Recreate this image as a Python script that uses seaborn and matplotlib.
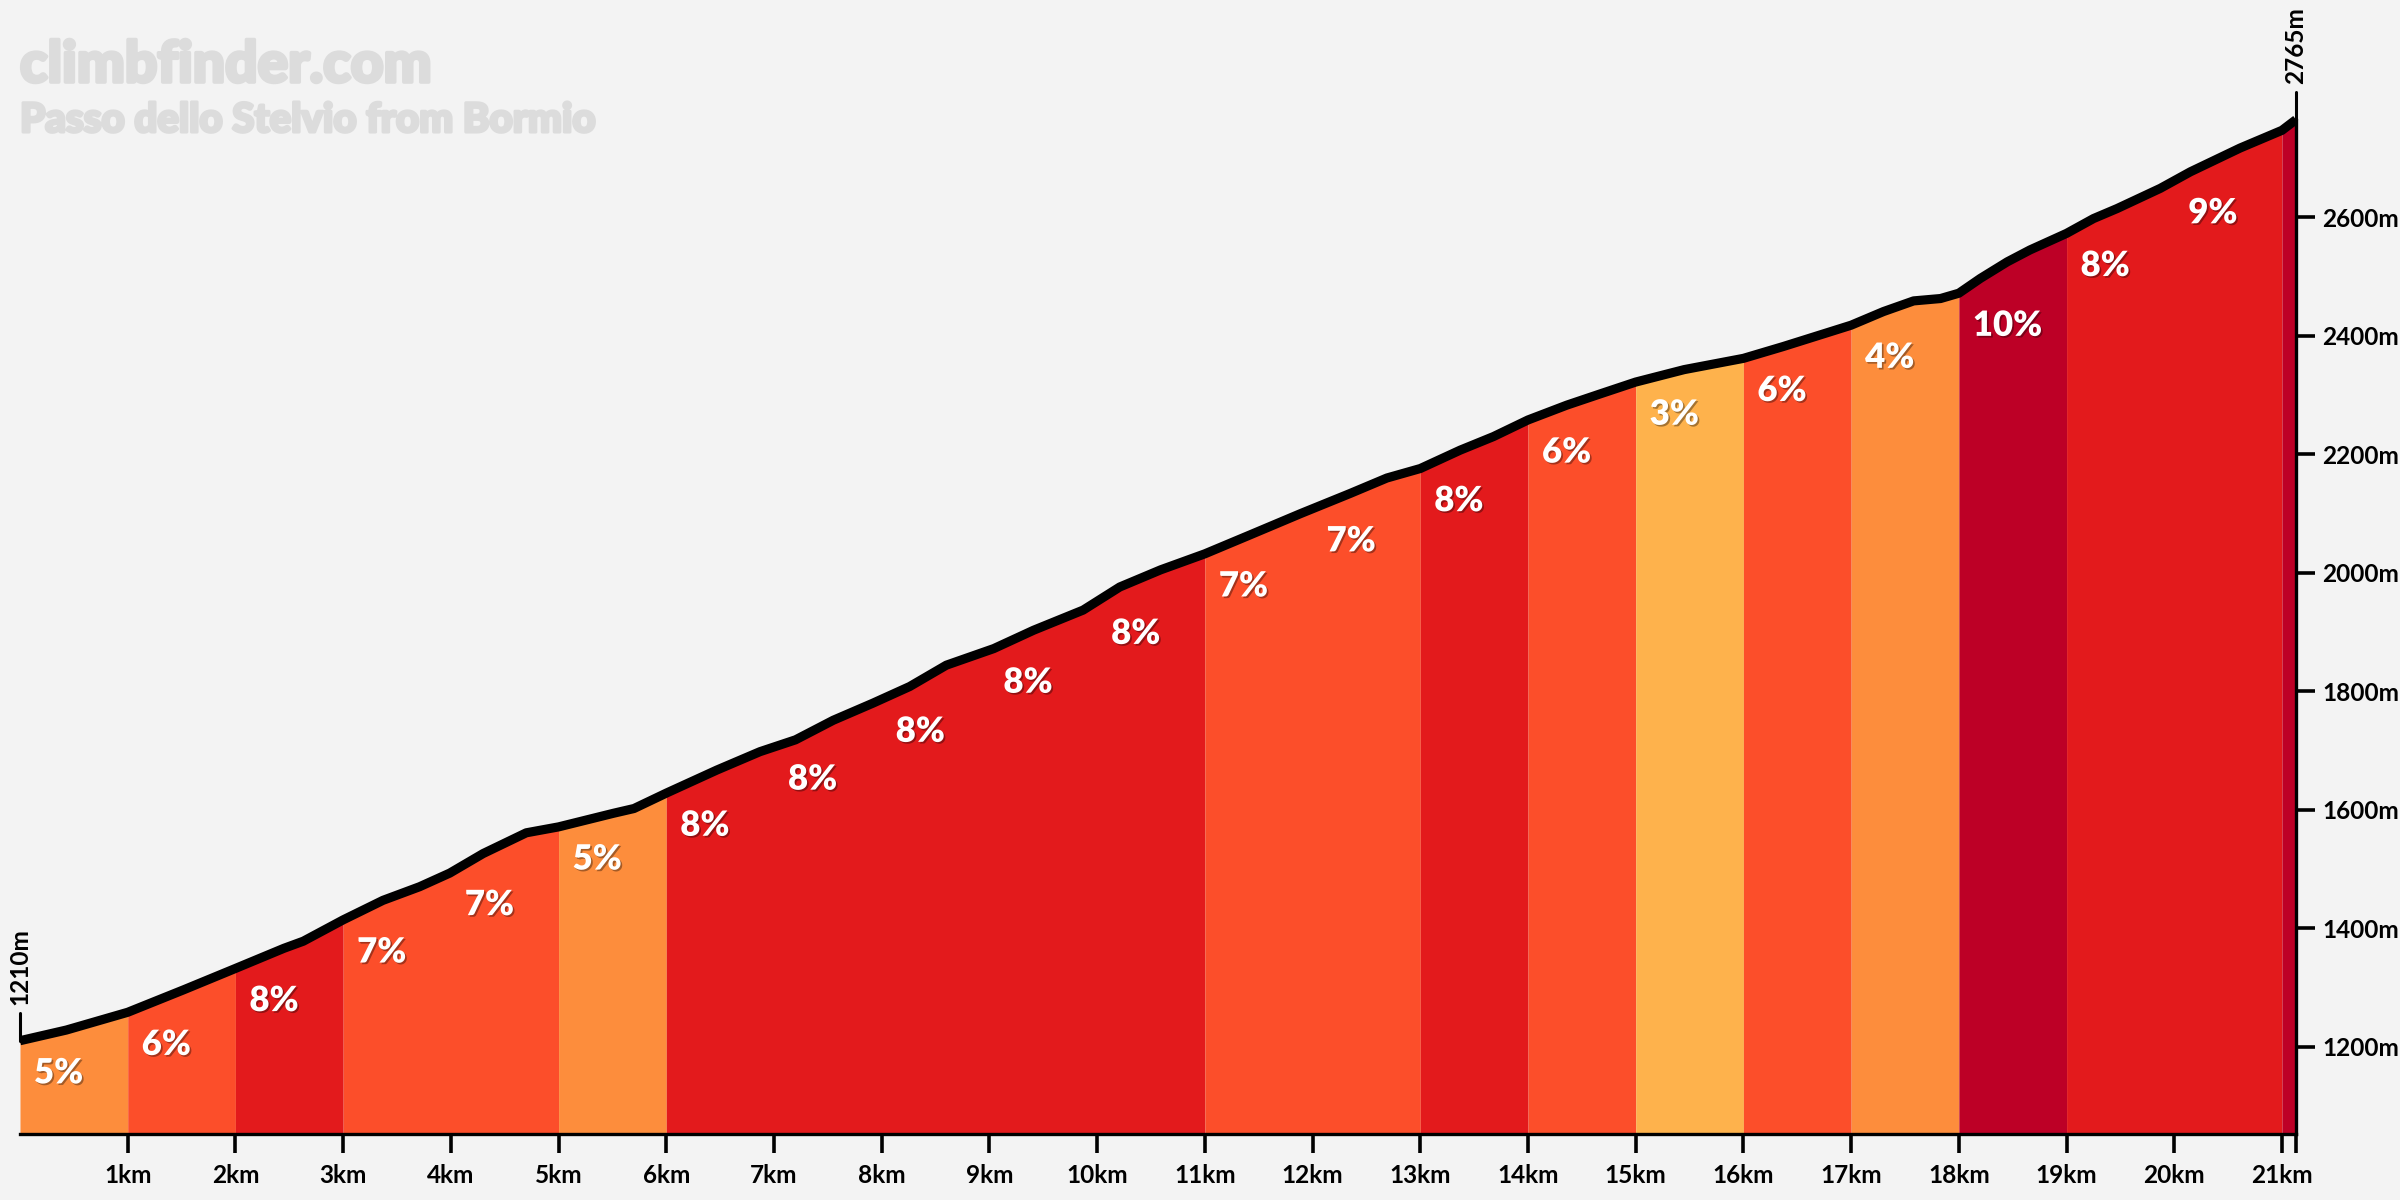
import numpy as np
import pandas as pd
import matplotlib
matplotlib.use("Agg")
import matplotlib.pyplot as plt
import matplotlib.patheffects as pe
import seaborn as sns

# ---------------- data ----------------
title = "climbfinder.com"
subtitle = "Passo dello Stelvio from Bormio"

dist_km = [0.0, 0.43, 1.0, 1.52, 2.0, 2.45, 2.63, 3.0, 3.37, 3.71, 3.99, 4.30, 4.70,
           5.0, 5.51, 5.70, 6.0, 6.47, 6.87, 7.2, 7.55, 7.92, 8.26, 8.60, 9.04, 9.41,
           9.87, 10.21, 10.59, 11.0, 11.42, 11.89, 12.35, 12.69, 13.0, 13.37, 13.68,
           14.0, 14.36, 14.67, 15.0, 15.45, 16.0, 16.37, 17.0, 17.3, 17.58,
           17.83, 18.0, 18.2, 18.45, 18.66, 19.0, 19.25, 19.47, 19.87, 20.15, 20.61,
           21.0, 21.13]
elev_m = [1210, 1228, 1258, 1296, 1332, 1366, 1378, 1414, 1447, 1470, 1493, 1526, 1561,
          1571, 1594, 1602, 1628, 1667, 1698, 1718, 1751, 1780, 1808, 1844, 1872, 1903,
          1937, 1976, 2005, 2032, 2064, 2100, 2134, 2160, 2176, 2207, 2230,
          2258, 2283, 2302, 2322, 2343, 2362, 2382, 2418, 2441, 2459,
          2463, 2472, 2497, 2525, 2545, 2573, 2598, 2615, 2649, 2677, 2717,
          2747, 2765]

seg_start = [0, 1, 2, 3, 5, 6, 11, 13, 14, 15, 16, 17, 18, 19, 21]
seg_end = [1, 2, 3, 5, 6, 11, 13, 14, 15, 16, 17, 18, 19, 21, 21.13]
seg_grade = [5, 6, 8, 7, 5, 8, 7, 8, 6, 3, 6, 4, 10, 8, 10]

label_km = list(range(21))
label_txt = ["5%", "6%", "8%", "7%", "7%", "5%", "8%", "8%", "8%", "8%", "8%",
             "7%", "7%", "8%", "6%", "3%", "6%", "4%", "10%", "8%", "9%"]

xtick_km = list(range(1, 22))
xtick_lbl = [f"{k}km" for k in xtick_km]
ytick_m = [1200, 1400, 1600, 1800, 2000, 2200, 2400, 2600]
ytick_lbl = [f"{v}m" for v in ytick_m]


def grade_color(g):
    if g <= 3:
        return "#feb24c"
    if g <= 5:
        return "#fd8d3c"
    if g <= 7:
        return "#fc4e2a"
    if g <= 9:
        return "#e31a1c"
    return "#bd0026"


# ---------------- style ----------------
sns.set_theme(style="white")
BG = "#f3f3f3"
FONT = ["Lato", "DejaVu Sans"]
plt.rcParams["font.family"] = FONT

fig = plt.figure(figsize=(12, 6), dpi=200, facecolor=BG)
ymin, ymax = 1052, 2967
xmax = dist_km[-1]
ax = fig.add_axes([20 / 2400, (1200 - 1134.3) / 1200, (2296 - 20) / 2400, 1134.3 / 1200])
ax.set_facecolor(BG)

df = pd.DataFrame({"km": dist_km, "elev": elev_m})
x = np.array(dist_km)
y = np.array(elev_m, dtype=float)

# coloured gradient blocks
for a, b, g in zip(seg_start, seg_end, seg_grade):
    m = (x > a) & (x < b)
    xs = np.concatenate([[a], x[m], [b]])
    ys = np.concatenate([[np.interp(a, x, y)], y[m], [np.interp(b, x, y)]])
    ax.fill_between(xs, ymin, ys, color=grade_color(g), lw=0, zorder=1)

# profile line
sns.lineplot(data=df, x="km", y="elev", ax=ax, color="black", lw=3.3,
             solid_capstyle="butt", solid_joinstyle="round", zorder=3)

# gradient labels
for k, t in zip(label_km, label_txt):
    e0 = np.interp(k, x, y)
    ax.text(k + 0.13, e0 - 72, t, color="white", fontsize=12.5, fontweight="heavy",
            ha="left", va="baseline", zorder=4,
            path_effects=[pe.withSimplePatchShadow(offset=(0.6, -0.6),
                                                   shadow_rgbFace="black", alpha=0.35)])

# axes / ticks
ax.set_xlim(0, xmax)
ax.set_ylim(ymin, ymax)
ax.set_xticks(xtick_km + [xmax])
ax.set_xticklabels(xtick_lbl + [""])
ax.yaxis.tick_right()
ax.set_yticks(ytick_m)
ax.set_yticklabels(ytick_lbl)
ax.tick_params(axis="x", direction="out", length=6.8, width=1.3, pad=4,
               labelsize=8.8, colors="black", bottom=True)
ax.tick_params(axis="y", direction="out", length=6.8, width=1.3, pad=2.6,
               labelsize=8.8, colors="black", right=True, left=False)
for lab in ax.get_xticklabels() + ax.get_yticklabels():
    lab.set_fontweight("bold")
ax.set_xlabel("")
ax.set_ylabel("")
for s in ["top", "left"]:
    ax.spines[s].set_visible(False)
ax.spines["bottom"].set_linewidth(1.2)
ax.spines["bottom"].set_color("black")
ax.spines["right"].set_linewidth(1.2)
ax.spines["right"].set_color("black")
ax.spines["right"].set_bounds(ymin, elev_m[-1])

# start / end markers
for xv, ev in [(0.0, elev_m[0]), (xmax, elev_m[-1])]:
    ax.plot([xv, xv], [ev, ev + 46], color="black", lw=1.1, zorder=5, clip_on=False)
    ax.text(xv, ev + 60, f"{ev}m", rotation=90, ha="center", va="bottom",
            fontsize=8.8, fontweight="bold", color="black", clip_on=False)

# titles
TCOL = "#dcdcdc"
fig.text(20 / 2400, 1 - 82 / 1200, title, color=TCOL, fontsize=20.5,
         fontweight="black", ha="left", va="baseline",
         path_effects=[pe.withStroke(linewidth=1.3, foreground=TCOL)])
fig.text(20 / 2400, 1 - 132 / 1200, subtitle, color=TCOL, fontsize=14.5,
         fontweight="black", ha="left", va="baseline",
         path_effects=[pe.withStroke(linewidth=1.1, foreground=TCOL)])

fig.savefig("out.png", dpi=200, facecolor=BG)
